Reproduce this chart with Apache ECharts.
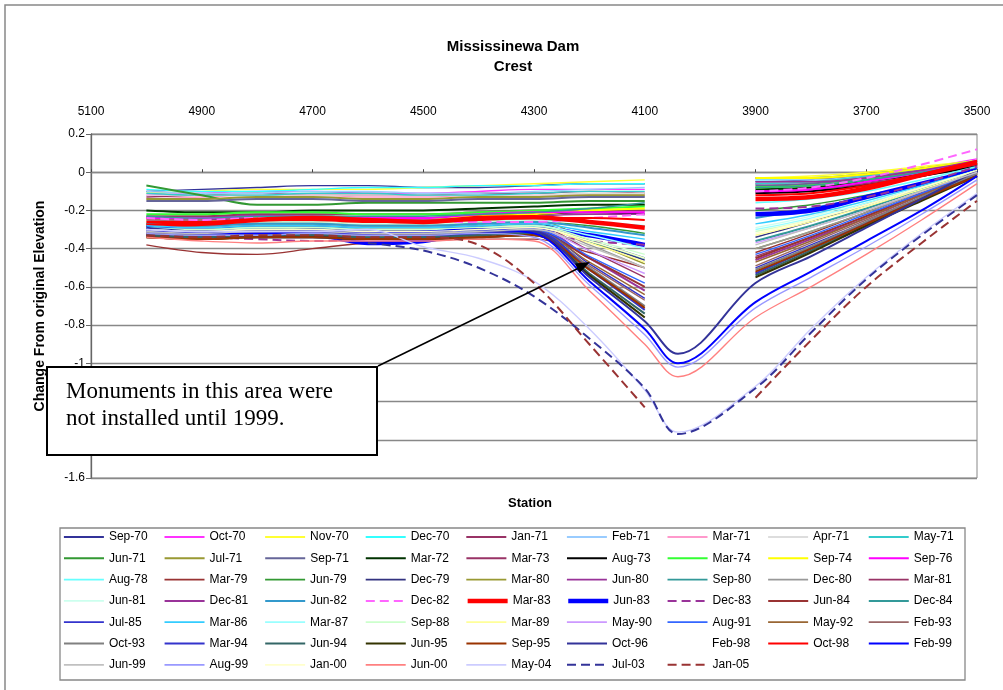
<!DOCTYPE html>
<html><head><meta charset="utf-8">
<script src="https://cdn.jsdelivr.net/npm/echarts@6/dist/echarts.min.js"></script>
<style>html,body{margin:0;padding:0;background:#fff}#c{width:1003px;height:690px}</style>
</head><body><div id="c"></div>
<script>
const n = null;
// Station positions of the survey monuments (ft)
const stations = [5000,4900,4800,4700,4600,4500,4400,4300,4200,4100,4040,3900,3800,3700,3600,3500];
const yTicks = [0.2,0,-0.2,-0.4,-0.6,-0.8,-1,-1.2,-1.4,-1.6];
const xTicks = [5100,4900,4700,4500,4300,4100,3900,3700,3500];

const sep70 = [-0.10,-0.09,-0.08,-0.07,-0.07,-0.08,-0.08,-0.07,-0.06,-0.06,n,-0.05,-0.04,-0.02,0.02,0.06];
const oct70 = [-0.12,-0.11,-0.10,-0.10,-0.11,-0.11,-0.10,-0.09,-0.09,-0.09,n,-0.06,-0.05,-0.02,0.02,0.07];
const nov70 = [-0.11,-0.10,-0.09,-0.09,-0.09,-0.08,-0.07,-0.06,-0.05,-0.04,n,-0.03,-0.02,0.0,0.03,0.06];
const dec70 = [-0.09,-0.10,-0.10,-0.09,-0.08,-0.08,-0.07,-0.07,-0.06,-0.06,n,-0.04,-0.03,-0.01,0.02,0.05];
const jan71 = [-0.13,-0.12,-0.11,-0.12,-0.12,-0.12,-0.11,-0.11,-0.10,-0.11,n,-0.06,-0.05,-0.03,0.01,0.05];
const feb71 = [-0.10,-0.11,-0.11,-0.10,-0.10,-0.11,-0.11,-0.10,-0.09,-0.08,n,-0.04,-0.04,-0.02,0.02,0.05];
const mar71 = [-0.14,-0.13,-0.12,-0.12,-0.13,-0.13,-0.12,-0.12,-0.12,-0.12,n,-0.07,-0.06,-0.03,0.01,0.06];
const apr71 = [-0.12,-0.12,-0.12,-0.12,-0.12,-0.12,-0.12,-0.12,-0.11,-0.11,n,-0.06,-0.05,-0.03,0.0,0.04];
const may71 = [-0.11,-0.12,-0.12,-0.11,-0.11,-0.12,-0.12,-0.11,-0.10,-0.10,n,-0.06,-0.05,-0.02,0.02,0.06];
const jun71 = [-0.07,-0.12,-0.17,-0.17,-0.16,-0.16,-0.16,-0.16,-0.15,-0.15,n,-0.08,-0.07,-0.04,0.0,0.05];
const jul71 = [-0.14,-0.14,-0.13,-0.13,-0.14,-0.14,-0.13,-0.13,-0.12,-0.12,n,-0.03,-0.03,-0.01,0.02,0.05];
const sep71 = [-0.15,-0.15,-0.14,-0.14,-0.15,-0.15,-0.14,-0.14,-0.13,-0.13,n,-0.07,-0.06,-0.03,0.01,0.05];
const mar72 = [-0.20,-0.21,-0.21,-0.20,-0.20,-0.20,-0.19,-0.18,-0.17,-0.17,n,-0.09,-0.08,-0.05,-0.01,0.04];
const mar73 = [-0.23,-0.23,-0.22,-0.22,-0.22,-0.22,-0.21,-0.20,-0.20,-0.20,n,-0.10,-0.09,-0.06,-0.02,0.04];
const aug73 = [-0.24,-0.24,-0.23,-0.23,-0.24,-0.24,-0.23,-0.22,-0.21,-0.22,n,-0.11,-0.10,-0.07,-0.02,0.03];
const mar74 = [-0.22,-0.22,-0.21,-0.21,-0.22,-0.22,-0.21,-0.20,-0.19,-0.18,n,-0.08,-0.07,-0.04,0.0,0.05];
const sep74 = [-0.25,-0.25,-0.24,-0.23,-0.24,-0.24,-0.23,-0.22,-0.20,-0.19,n,-0.03,-0.03,-0.01,0.02,0.06];
const sep76 = [-0.24,-0.24,-0.23,-0.23,-0.24,-0.24,-0.22,-0.21,-0.21,-0.21,n,-0.10,-0.09,-0.05,0.0,0.06];
const aug78 = [-0.26,-0.27,-0.26,-0.26,-0.27,-0.27,-0.26,-0.25,-0.26,-0.28,n,-0.16,-0.14,-0.10,-0.04,0.03];
const mar79 = [-0.38,-0.42,-0.43,-0.40,-0.37,-0.36,-0.35,-0.35,-0.42,-0.50,n,-0.42,-0.32,-0.21,-0.10,0.01];
const jun79 = [-0.27,-0.28,-0.27,-0.27,-0.28,-0.28,-0.27,-0.26,-0.28,-0.32,n,-0.20,-0.17,-0.12,-0.06,0.02];
const dec79 = [-0.28,-0.29,-0.28,-0.28,-0.29,-0.29,-0.28,-0.27,-0.36,-0.46,n,-0.34,-0.26,-0.17,-0.08,0.01];
const mar80 = [-0.27,-0.27,-0.26,-0.26,-0.27,-0.27,-0.26,-0.25,-0.36,-0.48,n,-0.40,-0.31,-0.21,-0.10,0.0];
const jun80 = [-0.25,-0.25,-0.24,-0.24,-0.25,-0.25,-0.24,-0.23,-0.22,-0.22,n,-0.05,-0.05,-0.03,0.01,0.06];
const sep80 = [-0.23,-0.24,-0.23,-0.23,-0.23,-0.23,-0.22,-0.21,-0.19,-0.16,n,-0.08,-0.07,-0.04,0.0,0.05];
const dec80 = [-0.30,-0.30,-0.29,-0.29,-0.30,-0.30,-0.29,-0.28,-0.38,-0.50,n,-0.40,-0.31,-0.21,-0.10,0.0];
const mar81 = [-0.29,-0.30,-0.29,-0.29,-0.30,-0.30,-0.29,-0.28,-0.41,-0.55,n,-0.44,-0.34,-0.23,-0.11,0.0];
const jun81 = [-0.26,-0.27,-0.26,-0.26,-0.27,-0.27,-0.26,-0.25,-0.31,-0.40,n,-0.29,-0.23,-0.15,-0.07,0.02];
const dec81 = [-0.30,-0.31,-0.30,-0.30,-0.31,-0.31,-0.30,-0.29,-0.45,-0.62,n,-0.46,-0.35,-0.24,-0.12,0.0];
const jun82 = [-0.27,-0.28,-0.27,-0.27,-0.28,-0.28,-0.27,-0.26,-0.29,-0.33,n,-0.24,-0.19,-0.13,-0.06,0.02];
const dec82 = [-0.24,-0.25,-0.24,-0.24,-0.25,-0.26,-0.26,-0.26,-0.24,-0.22,n,-0.10,-0.08,-0.03,0.04,0.12];
const mar83 = [-0.28,-0.27,-0.25,-0.24,-0.25,-0.26,-0.24,-0.235,-0.26,-0.29,n,-0.14,-0.13,-0.085,-0.015,0.05];
const jun83 = [-0.29,-0.30,-0.30,-0.32,-0.37,-0.36,-0.30,-0.29,-0.33,-0.38,n,-0.22,-0.20,-0.13,-0.06,0.01];
const dec83 = [-0.33,-0.34,-0.35,-0.36,-0.35,-0.34,-0.33,-0.33,-0.36,-0.38,n,-0.19,-0.18,-0.13,-0.06,0.03];
const jun84 = [-0.32,-0.33,-0.32,-0.32,-0.33,-0.33,-0.32,-0.31,-0.45,-0.60,n,-0.45,-0.34,-0.23,-0.11,0.0];
const dec84 = [-0.29,-0.30,-0.29,-0.29,-0.30,-0.30,-0.29,-0.28,-0.36,-0.45,n,-0.36,-0.28,-0.19,-0.09,0.01];
const jul85 = [-0.30,-0.33,-0.34,-0.34,-0.35,-0.33,-0.31,-0.30,-0.48,-0.66,n,-0.50,-0.38,-0.26,-0.13,-0.01];
const mar86 = [-0.28,-0.29,-0.28,-0.28,-0.29,-0.29,-0.28,-0.27,-0.31,-0.35,n,-0.27,-0.22,-0.15,-0.07,0.01];
const mar87 = [-0.29,-0.30,-0.29,-0.29,-0.30,-0.30,-0.29,-0.28,-0.33,-0.40,n,-0.30,-0.24,-0.16,-0.08,0.01];
const sep88 = [-0.30,-0.30,-0.29,-0.29,-0.30,-0.30,-0.29,-0.28,-0.35,-0.43,n,-0.31,-0.25,-0.17,-0.08,0.01];
const mar89 = [-0.30,-0.31,-0.30,-0.30,-0.31,-0.31,-0.30,-0.29,-0.37,-0.47,n,-0.33,-0.26,-0.18,-0.09,0.0];
const may90 = [-0.31,-0.32,-0.31,-0.31,-0.32,-0.32,-0.31,-0.30,-0.41,-0.53,n,-0.37,-0.29,-0.20,-0.10,0.0];
const aug91 = [-0.31,-0.32,-0.31,-0.31,-0.32,-0.32,-0.31,-0.30,-0.44,-0.58,n,-0.43,-0.33,-0.22,-0.11,0.0];
const may92 = [-0.32,-0.33,-0.32,-0.32,-0.33,-0.33,-0.32,-0.31,-0.47,-0.64,n,-0.47,-0.36,-0.24,-0.12,-0.01];
const feb93 = [-0.33,-0.34,-0.33,-0.33,-0.34,-0.34,-0.33,-0.32,-0.49,-0.67,n,-0.49,-0.37,-0.25,-0.13,-0.01];
const oct93 = [-0.32,-0.33,-0.32,-0.32,-0.33,-0.33,-0.32,-0.31,-0.50,-0.70,n,-0.51,-0.39,-0.26,-0.13,-0.01];
const mar94 = [-0.33,-0.34,-0.34,-0.34,-0.35,-0.34,-0.32,-0.31,-0.51,-0.72,n,-0.53,-0.40,-0.27,-0.14,-0.02];
const jun94 = [-0.33,-0.34,-0.33,-0.33,-0.34,-0.34,-0.33,-0.32,-0.53,-0.74,n,-0.54,-0.41,-0.28,-0.14,-0.02];
const jun95 = [-0.34,-0.35,-0.34,-0.34,-0.35,-0.35,-0.34,-0.33,-0.54,-0.76,n,-0.55,-0.42,-0.28,-0.15,-0.02];
const sep95 = [-0.34,-0.35,-0.34,-0.34,-0.35,-0.35,-0.34,-0.33,-0.51,-0.71,n,-0.52,-0.40,-0.27,-0.14,-0.02];
const oct96 = [-0.29,-0.31,-0.31,-0.30,-0.31,-0.31,-0.30,-0.31,-0.55,-0.78,-0.95,-0.58,-0.44,-0.29,-0.14,0.01];
const feb98 = [-0.27,-0.28,-0.27,-0.27,-0.28,-0.28,-0.27,-0.26,-0.26,-0.27,n,-0.12,-0.11,-0.07,-0.01,0.05];
const oct98 = [-0.26,-0.26,-0.25,-0.25,-0.26,-0.26,-0.25,-0.24,-0.24,-0.25,n,-0.12,-0.11,-0.07,-0.01,0.06];
const feb99 = [-0.30,-0.32,-0.32,-0.31,-0.32,-0.31,-0.30,-0.32,-0.57,-0.82,-1.00,-0.68,-0.52,-0.36,-0.20,-0.02];
const jun99 = [-0.31,-0.32,-0.31,-0.31,-0.32,-0.32,-0.31,-0.30,-0.39,-0.50,n,-0.38,-0.29,-0.20,-0.10,0.0];
const aug99 = [-0.32,-0.33,-0.33,-0.32,-0.33,-0.33,-0.32,-0.34,-0.59,-0.85,-1.02,-0.71,-0.55,-0.39,-0.22,-0.04];
const jan00 = [-0.30,-0.31,-0.30,-0.30,-0.31,-0.31,-0.30,-0.29,-0.36,-0.45,n,-0.32,-0.25,-0.17,-0.08,0.01];
const jun00 = [-0.34,-0.36,-0.37,-0.36,-0.36,-0.36,-0.35,-0.36,-0.62,-0.90,-1.07,-0.76,-0.60,-0.43,-0.25,-0.06];
const may04 = [-0.30,-0.31,-0.31,-0.31,-0.30,-0.39,-0.45,-0.57,-0.82,-1.14,-1.36,-1.12,-0.82,-0.55,-0.32,-0.11];
const jul03 = [n,n,n,n,-0.37,-0.41,-0.50,-0.65,-0.87,-1.13,-1.37,-1.13,-0.84,-0.56,-0.33,-0.12];
const jan05 = [-0.33,-0.34,-0.33,-0.33,-0.34,-0.34,-0.38,-0.58,-0.90,-1.23,n,-1.18,-0.88,-0.60,-0.37,-0.15];

const seriesNames = ['Sep-70','Oct-70','Nov-70','Dec-70','Jan-71','Feb-71','Mar-71','Apr-71','May-71',
 'Jun-71','Jul-71','Sep-71','Mar-72','Mar-73','Aug-73','Mar-74','Sep-74','Sep-76',
 'Aug-78','Mar-79','Jun-79','Dec-79','Mar-80','Jun-80','Sep-80','Dec-80','Mar-81',
 'Jun-81','Dec-81','Jun-82','Dec-82','Mar-83','Jun-83','Dec-83','Jun-84','Dec-84',
 'Jul-85','Mar-86','Mar-87','Sep-88','Mar-89','May-90','Aug-91','May-92','Feb-93',
 'Oct-93','Mar-94','Jun-94','Jun-95','Sep-95','Oct-96','Feb-98','Oct-98','Feb-99',
 'Jun-99','Aug-99','Jan-00','Jun-00','May-04','Jul-03','Jan-05'];
const seriesValues = [sep70,oct70,nov70,dec70,jan71,feb71,mar71,apr71,may71,
 jun71,jul71,sep71,mar72,mar73,aug73,mar74,sep74,sep76,
 aug78,mar79,jun79,dec79,mar80,jun80,sep80,dec80,mar81,
 jun81,dec81,jun82,dec82,mar83,jun83,dec83,jun84,dec84,
 jul85,mar86,mar87,sep88,mar89,may90,aug91,may92,feb93,
 oct93,mar94,jun94,jun95,sep95,oct96,feb98,oct98,feb99,
 jun99,aug99,jan00,jun00,may04,jul03,jan05];

// styles: [color, width, dashed]
const styles = {
 'Sep-70':['#333399',1.4],'Oct-70':['#ff33ff',1.4],'Nov-70':['#ffff33',1.4],'Dec-70':['#33ffff',1.4],
 'Jan-71':['#993366',1.4],'Feb-71':['#99ccff',1.4],'Mar-71':['#ff99cc',1.4],'Apr-71':['#dddddd',1.4],
 'May-71':['#33cccc',1.4],'Jun-71':['#339933',2],'Jul-71':['#999933',2],'Sep-71':['#666699',2],
 'Mar-72':['#003300',2],'Mar-73':['#993366',2],'Aug-73':['#000000',2],'Mar-74':['#33ff33',2],
 'Sep-74':['#ffff00',2],'Sep-76':['#ff00ff',2],'Aug-78':['#66ffff',1.4],'Mar-79':['#993333',1.4],
 'Jun-79':['#339933',1.4],'Dec-79':['#333380',1.4],'Mar-80':['#999933',1.4],'Jun-80':['#993399',1.4],
 'Sep-80':['#339999',1.4],'Dec-80':['#999999',1.4],'Mar-81':['#993366',1.4],'Jun-81':['#ccffee',1.4],
 'Dec-81':['#993399',2],'Jun-82':['#3399cc',2],'Dec-82':['#ff66ff',2,true],'Mar-83':['#ff0000',4.5],
 'Jun-83':['#0000ff',4.5],'Dec-83':['#993399',2,true],'Jun-84':['#993333',2],'Dec-84':['#339999',2],
 'Jul-85':['#3333cc',1.4],'Mar-86':['#33ccff',1.4],'Mar-87':['#99ffff',1.4],'Sep-88':['#ccffcc',1.4],
 'Mar-89':['#ffff99',1.4],'May-90':['#cc99ff',1.4],'Aug-91':['#3366ff',1.4],'May-92':['#996633',1.4],
 'Feb-93':['#996666',1.4],'Oct-93':['#808080',2],'Mar-94':['#3333cc',2],'Jun-94':['#336666',2],
 'Jun-95':['#333300',2],'Sep-95':['#993300',2],'Oct-96':['#333399',2],'Feb-98':['#ffffff',0],
 'Oct-98':['#ff0000',2],'Feb-99':['#0000ff',2],'Jun-99':['#c0c0c0',1.4],'Aug-99':['#9999ff',1.4],
 'Jan-00':['#ffffcc',1.4],'Jun-00':['#ff8080',1.4],'May-04':['#ccccff',1.4],'Jul-03':['#333399',2,true],
 'Jan-05':['#993333',2,true]
};

const FONT = '"Liberation Sans", Arial, sans-serif';
const series = seriesNames.map((name, i) => {
  const st = styles[name];
  return {
    name, type: 'line', symbol: 'none', showSymbol: false, smooth: 0.35, animation: false,
    xAxisIndex: 0, yAxisIndex: 0,
    data: stations.map((s, j) => [s, seriesValues[i][j] === null ? '-' : seriesValues[i][j]]),
    lineStyle: { color: st[0], width: st[1], type: st[2] ? [9, 5] : 'solid', opacity: st[1] === 0 ? 0 : 1 },
    itemStyle: { color: st[0], opacity: 0 },
    emphasis: { disabled: true }
  };
});

// one legend entry per name, laid out in a 9-column grid
const legends = seriesNames.map((name, i) => {
  const st = styles[name];
  return {
    show: true, orient: 'horizontal',
    left: 63 + (i % 9) * 100.6, top: 531 + Math.floor(i / 9) * 21.3,
    itemWidth: 40, itemHeight: 10, selectedMode: false, padding: 0,
    data: [name],
    itemStyle: { opacity: 0 },
    lineStyle: { width: st[1] === 0 ? 1 : Math.max(st[1], 1.8), color: st[0], type: st[2] ? [9, 5] : 'solid', opacity: st[1] === 0 ? 0 : 1 },
    textStyle: { fontFamily: FONT, fontSize: 12, color: '#000' }
  };
});

const option = {
  animation: false,
  backgroundColor: '#fff',
  title: {
    text: 'Mississinewa Dam\nCrest', left: 508, top: 32, textAlign: 'center',
    textStyle: { fontFamily: FONT, fontSize: 15, fontWeight: 'bold', color: '#000', lineHeight: 20 }
  },
  legend: legends,
  grid: { left: 91, top: 134, width: 886, height: 344, show: true, borderColor: '#888', borderWidth: 1, backgroundColor: 'transparent' },
  xAxis: [
    { type: 'value', position: 'top', inverse: true, min: 3500, max: 5100, interval: 200,
      axisLine: { show: false, onZero: false }, axisTick: { show: false },
      axisLabel: { show: true, margin: 16, fontFamily: FONT, fontSize: 12, color: '#000', formatter: v => String(v) },
      splitLine: { show: false } },
    { type: 'value', position: 'top', inverse: true, min: 3500, max: 5100, interval: 200,
      axisLine: { show: true, onZero: true, lineStyle: { color: '#888', width: 1.3 } },
      axisTick: { show: true, length: 3, lineStyle: { color: '#444' } },
      axisLabel: { show: false }, splitLine: { show: false } }
  ],
  yAxis: {
    type: 'value', min: -1.6, max: 0.2, interval: 0.2,
    name: 'Change From original Elevation', nameLocation: 'middle', nameGap: 44,
    nameTextStyle: { fontFamily: FONT, fontSize: 14, fontWeight: 'bold', color: '#000' },
    axisLine: { show: true, lineStyle: { color: '#666', width: 1.3 } },
    axisTick: { show: true, length: 5, lineStyle: { color: '#666' } },
    axisLabel: { fontFamily: FONT, fontSize: 12, color: '#000', margin: 6 },
    splitLine: { show: true, lineStyle: { color: '#888', width: 1.3 } }
  },
  graphic: [
    { type: 'rect', z: 1, silent: true, shape: { x: 5, y: 5, width: 1010, height: 700 }, style: { fill: 'none', stroke: '#888', lineWidth: 1.5 } },
    { type: 'rect', z: 1, silent: true, shape: { x: 60, y: 528, width: 905, height: 152 }, style: { fill: 'none', stroke: '#888', lineWidth: 1.3 } },
    { type: 'text', z: 10, silent: true, x: 530, y: 503, style: { text: 'Station', fontFamily: FONT, fontSize: 13, fontWeight: 'bold', fill: '#000', align: 'center', verticalAlign: 'middle' } },
    { type: 'line', z: 100, silent: true, shape: { x1: 378, y1: 366, x2: 579, y2: 268 }, style: { stroke: '#000', lineWidth: 1.5 } },
    { type: 'polygon', z: 100, silent: true, shape: { points: [[590, 262], [579.6, 273], [575, 263.6]] }, style: { fill: '#000' } },
    { type: 'rect', z: 100, silent: true, shape: { x: 47, y: 367, width: 330, height: 88 }, style: { fill: '#fff', stroke: '#000', lineWidth: 2 } },
    { type: 'text', z: 101, silent: true, x: 66, y: 405, style: { text: 'Monuments in this area were\nnot installed until 1999.', fontFamily: '"Liberation Serif", "Times New Roman", serif', fontSize: 23, lineHeight: 27, fill: '#000', verticalAlign: 'middle' } }
  ],
  series
};

const chart = echarts.init(document.getElementById('c'), null, { renderer: 'canvas' });
chart.setOption(option);
</script>
</body></html>
